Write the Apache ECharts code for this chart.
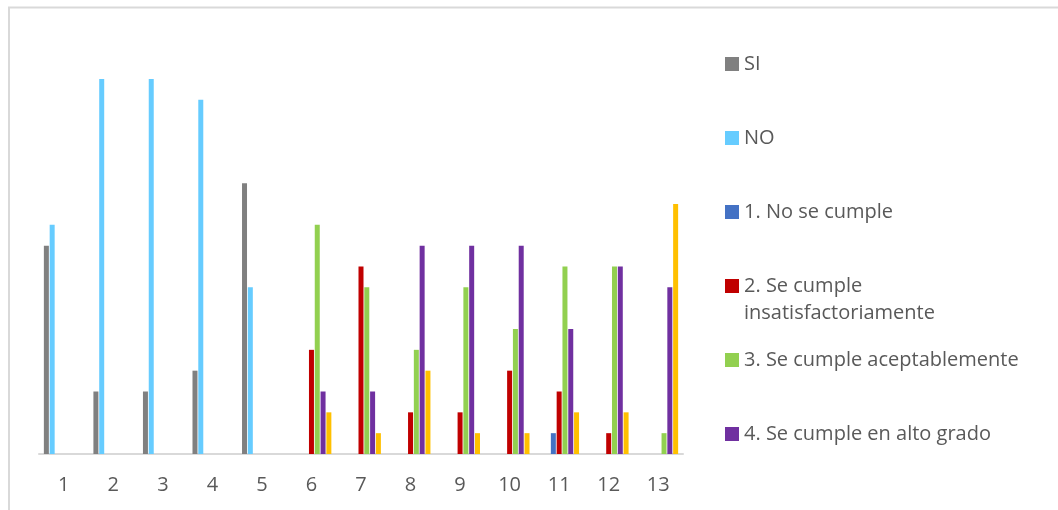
<!DOCTYPE html>
<html>
<head>
<meta charset="utf-8">
<script src="https://cdn.jsdelivr.net/npm/echarts@6/dist/echarts.min.js"></script>
<style>
  html, body { margin: 0; padding: 0; background: #ffffff; }
  #chart { width: 1058px; height: 510px; }
</style>
</head>
<body>
<div id="chart"></div>
<script>
// Indicator numbers along the horizontal axis
const categories = ['1', '2', '3', '4', '5', '6', '7', '8', '9', '10', '11', '12', '13'];

// Counts per answer option for each indicator
const si          = [10, 3, 3, 4, 13, 0, 0, 0, 0, 0, 0, 0, 0];
const no          = [11, 18, 18, 17, 8, 0, 0, 0, 0, 0, 0, 0, 0];
const noCumple    = [0, 0, 0, 0, 0, 0, 0, 0, 0, 0, 1, 0, 0];
const insatisf    = [0, 0, 0, 0, 0, 5, 9, 2, 2, 4, 3, 1, 0];
const aceptable   = [0, 0, 0, 0, 0, 11, 8, 5, 8, 6, 9, 9, 1];
const altoGrado   = [0, 0, 0, 0, 0, 3, 3, 10, 10, 10, 6, 9, 8];
const pleno       = [0, 0, 0, 0, 0, 2, 1, 4, 1, 1, 2, 2, 12];

const seriesNames = [
  'SI',
  'NO',
  '1. No se cumple',
  '2. Se cumple insatisfactoriamente',
  '3. Se cumple aceptablemente',
  '4. Se cumple en alto grado',
  '5. Se cumple plenamente'
];
const seriesData = [si, no, noCumple, insatisf, aceptable, altoGrado, pleno];
const colors = ['#808080', '#66CCFF', '#4472C4', '#C00000', '#92D050', '#7030A0', '#FFC000'];

const FONT = '"Open Sans", "Liberation Sans", sans-serif';
const FONT_SIZE = 20;
const TEXT_COLOR = '#595959';

const chart = echarts.init(document.getElementById('chart'), null, { renderer: 'canvas' });

// One legend block per entry so the rows sit on an even vertical rhythm
const legendRowTop = 62;
const legendRowStep = 74;
const legends = seriesNames.slice(0, 6).map((name, i) => ({
  orient: 'vertical',
  left: 725,
  top: legendRowTop + legendRowStep * i - 8,
  padding: 0,
  itemGap: 0,
  itemWidth: 14,
  itemHeight: 14,
  icon: 'rect',
  selectedMode: false,
  data: [name],
  formatter: n => (n === seriesNames[3] ? '2. Se cumple' : n),
  textStyle: { fontFamily: FONT, fontSize: FONT_SIZE, color: TEXT_COLOR, lineHeight: 14 }
}));

const option = {
  backgroundColor: '#ffffff',
  animation: false,
  color: colors,
  grid: { left: 39, right: 375, top: 79, bottom: 56, containLabel: false },
  legend: legends,
  xAxis: {
    type: 'category',
    data: categories,
    axisLine: { lineStyle: { color: '#d9d9d9', width: 2 } },
    axisTick: { show: false },
    axisLabel: { color: TEXT_COLOR, fontFamily: FONT, fontSize: FONT_SIZE, margin: 21 }
  },
  yAxis: {
    type: 'value',
    min: 0,
    max: 18,
    show: false,
    splitLine: { show: false }
  },
  series: seriesNames.map((name, i) => ({
    name,
    type: 'bar',
    data: seriesData[i],
    barWidth: 5,
    barGap: '16%',
    itemStyle: { color: colors[i] }
  })),
  graphic: [
    {
      type: 'rect',
      silent: true,
      shape: { x: 9, y: 7.5, width: 1200, height: 700 },
      style: { fill: 'none', stroke: '#d9d9d9', lineWidth: 2 }
    },
    {
      type: 'text',
      silent: true,
      style: {
        x: 744,
        y: 313,
        text: 'insatisfactoriamente',
        fontFamily: FONT,
        fontSize: FONT_SIZE,
        fill: TEXT_COLOR,
        verticalAlign: 'middle'
      }
    }
  ]
};

chart.setOption(option);
</script>
</body>
</html>
